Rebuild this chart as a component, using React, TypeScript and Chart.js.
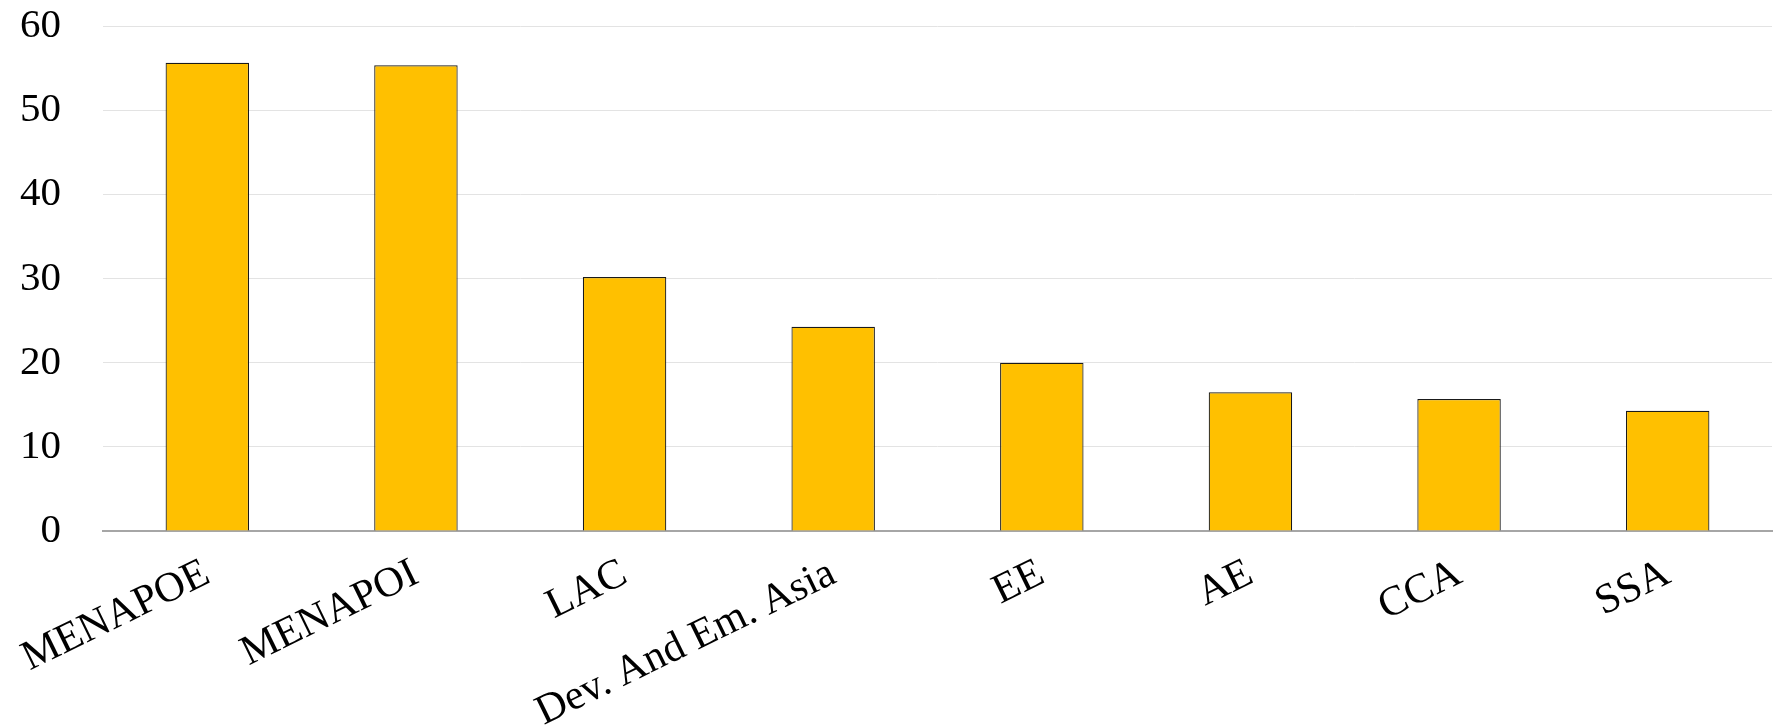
import React, { useEffect, useRef } from "react";
import { Chart, registerables } from "chart.js";

Chart.register(...registerables);

const categories = ["MENAPOE", "MENAPOI", "LAC", "Dev. And Em. Asia", "EE", "AE", "CCA", "SSA"];
const values = [55.7, 55.4, 30.2, 24.3, 20.0, 16.5, 15.7, 14.3];
const yTicks = [0, 10, 20, 30, 40, 50, 60];

const FONT = "'Liberation Serif', 'Times New Roman', serif";

export default function App() {
  const ref = useRef<HTMLCanvasElement | null>(null);

  useEffect(() => {
    document.body.style.margin = "0";
    const canvas = ref.current;
    if (!canvas) return;
    const chart = new Chart(canvas, {
      type: "bar",
      data: {
        labels: categories,
        datasets: [
          {
            data: values,
            backgroundColor: "#FFC000",
            borderColor: "#1a1a1a",
            borderWidth: 1.2,
            barPercentage: 0.4,
            categoryPercentage: 1,
          },
        ],
      },
      options: {
        responsive: false,
        animation: false,
        maintainAspectRatio: false,
        layout: { padding: { top: 25, right: 5, left: 0, bottom: 0 } },
        plugins: { legend: { display: false }, tooltip: { enabled: false } },
        scales: {
          x: {
            grid: { display: false, drawTicks: false },
            border: { display: true, color: "#a6a6a6", width: 2 },
            ticks: {
              color: "#000",
              font: { family: FONT, size: 42 },
              minRotation: 26,
              maxRotation: 26,
              padding: 18,
              autoSkip: false,
            },
            afterFit: (scale: any) => {
              scale.height = 197;
            },
          },
          y: {
            min: 0,
            max: 60,
            afterBuildTicks: (scale: any) => {
              scale.ticks = yTicks.map((v) => ({ value: v }));
            },
            grid: {
              color: "#e3e3e3",
              lineWidth: 1,
              drawTicks: true,
              tickLength: 40,
              tickColor: "rgba(0,0,0,0)",
            },
            border: { display: false },
            ticks: {
              color: "#000",
              font: { family: FONT, size: 41 },
              padding: 2,
            },
            afterFit: (scale: any) => {
              scale.width = 103;
            },
          },
        },
      },
    });
    return () => chart.destroy();
  }, []);

  return (
    <div style={{ position: "fixed", left: 0, top: 0, width: 1777, height: 728, background: "#fff" }}>
      <canvas ref={ref} width={1777} height={728} style={{ width: 1777, height: 728 }} />
    </div>
  );
}
